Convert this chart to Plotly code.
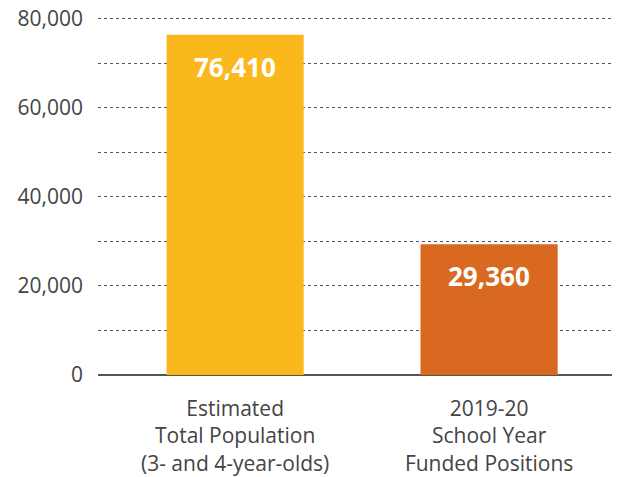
import plotly.graph_objects as go

# Chart data
categories = ["Estimated<br>Total Population<br>(3- and 4-year-olds)",
              "2019-20<br>School Year<br>Funded Positions"]
values = [76410, 29360]
value_labels = ["76,410", "29,360"]
bar_colors = ["#FBB81D", "#D96921"]

grid_vals = [0, 10000, 20000, 30000, 40000, 50000, 60000, 70000, 80000]
grid_text = ["0", "", "20,000", "", "40,000", "", "60,000", "", "80,000"]

font_family = "'Open Sans', sans-serif"

fig = go.Figure()
fig.add_trace(go.Bar(
    x=[0, 1],
    y=values,
    width=0.54,
    marker=dict(color=bar_colors, line=dict(width=0)),
    hoverinfo="skip",
))

# Value labels inside the top of each bar
for i, (val, txt) in enumerate(zip(values, value_labels)):
    fig.add_annotation(
        x=i, y=val, text="<b>" + txt + "</b>",
        showarrow=False, yshift=-32,
        font=dict(family=font_family, size=26, color="white"),
    )

fig.update_layout(
    width=620, height=477,
    margin=dict(l=98, r=8, t=16, b=102),
    paper_bgcolor="white",
    plot_bgcolor="white",
    showlegend=False,
    font=dict(family=font_family, color="#444444"),
)

fig.update_xaxes(
    range=[-0.54, 1.484],
    tickvals=[0, 1],
    ticktext=categories,
    tickfont=dict(size=21, color="#444444"),
    showgrid=False,
    showline=False,
    ticks="",
    ticklabelstandoff=19,
    automargin=False,
)

fig.update_yaxes(
    range=[0, 80600],
    tickvals=grid_vals,
    ticktext=grid_text,
    tickfont=dict(size=21, color="#444444"),
    showgrid=True,
    gridcolor="#555555",
    griddash="dot",
    gridwidth=1,
    zeroline=True,
    zerolinecolor="#555555",
    zerolinewidth=1.5,
    ticks="",
    ticklabelstandoff=14,
    automargin=False,
)

fig.write_html("out.html")
